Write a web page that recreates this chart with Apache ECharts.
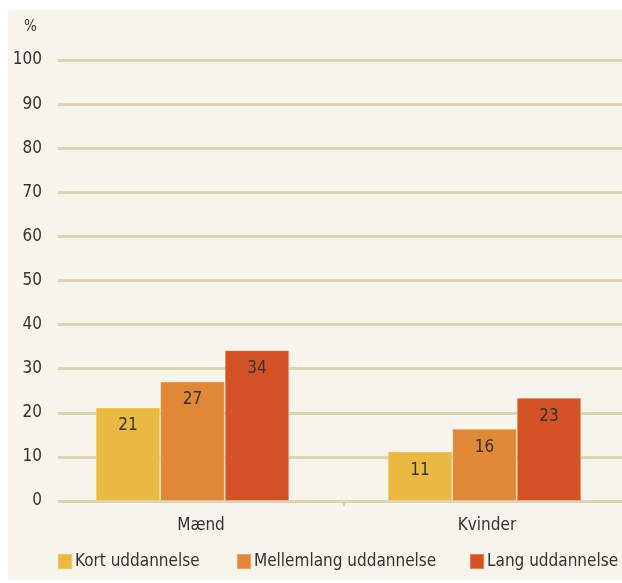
<!DOCTYPE html>
<html><head><meta charset="utf-8">
<script src="https://cdn.jsdelivr.net/npm/echarts@6/dist/echarts.min.js"></script>
<style>
html,body{margin:0;padding:0;background:#fff;}
#bg{position:absolute;left:8px;top:10px;width:614px;height:570px;background:#f7f4ec;}
#c{position:absolute;left:0;top:0;width:622px;height:583px;}
</style></head>
<body><div id="bg"></div><div id="c"></div>
<script>
const categories = ['Mænd', 'Kvinder'];
const seriesNames = ['Kort uddannelse', 'Mellemlang uddannelse', 'Lang uddannelse'];
const kort = [21.2, 11.2];
const mellemlang = [27.1, 16.4];
const lang = [34.2, 23.4];
const yTicks = [0, 10, 20, 30, 40, 50, 60, 70, 80, 90, 100];
const colors = ['#e9b942', '#e08838', '#d45225'];
const font = '"DejaVu Sans Condensed", "Liberation Sans Narrow", sans-serif';
const chart = echarts.init(document.getElementById('c'));
const values = [kort, mellemlang, lang];
const legendLefts = [57, 236, 469];
const labelPos = categories.map((c, i) => i + 0.5);
const dividerPos = categories.slice(1).map((c, i) => i + 1);
chart.setOption({
  backgroundColor: 'transparent',
  animation: false,
  grid: [
    {left: 58, width: 572, top: 60, bottom: 82, containLabel: false, outerBoundsMode: 'none'},
    {left: 46.5, width: 584, top: 60, bottom: 82, containLabel: false, outerBoundsMode: 'none'}
  ],
  graphic: [{type: 'text', left: 24, top: 20, style: {text: '%', font: '15px ' + font, fill: '#333'}}],
  xAxis: [{
    type: 'value', min: 0, max: categories.length, gridIndex: 0,
    axisLine: {show: false}, splitLine: {show: false},
    axisTick: {show: true, length: 5, lineStyle: {color: '#ddd3b6', width: 2}, customValues: dividerPos},
    axisLabel: {color: '#333', fontFamily: font, fontSize: 17, margin: 16, customValues: labelPos,
      formatter: v => categories[Math.floor(v)]}
  }, {
    type: 'category', data: categories, gridIndex: 1, show: false
  }],
  yAxis: [{
    type: 'value', min: 0, max: 100, interval: 10, gridIndex: 0,
    axisLabel: {color: '#333', fontFamily: font, fontSize: 17, margin: 16,
      formatter: v => yTicks.includes(v) ? String(v) : ''},
    axisLine: {show: false}, axisTick: {show: false},
    splitLine: {lineStyle: {color: '#ddd3b6', width: 3}}
  }, {
    type: 'value', min: 0, max: 100, interval: 10, gridIndex: 1, show: false
  }],
  legend: seriesNames.map((n, i) => ({
    bottom: 13, left: legendLefts[i], padding: 0, itemWidth: 14, itemHeight: 15,
    icon: 'rect',
    textStyle: {color: '#333', fontFamily: font, fontSize: 17, padding: [0, 0, 0, -2]},
    data: [n]
  })),
  series: seriesNames.map((n, i) => ({
    name: n, type: 'bar', data: values[i], barWidth: 64.5, barGap: '0%',
    xAxisIndex: 1, yAxisIndex: 1,
    itemStyle: {color: colors[i], borderColor: 'rgba(255,225,190,0.35)', borderWidth: 1},
    label: {show: true, position: 'insideTop', distance: 10, color: '#333', fontFamily: font, fontSize: 17,
      formatter: p => Math.round(p.value)}
  }))
});
</script></body></html>
